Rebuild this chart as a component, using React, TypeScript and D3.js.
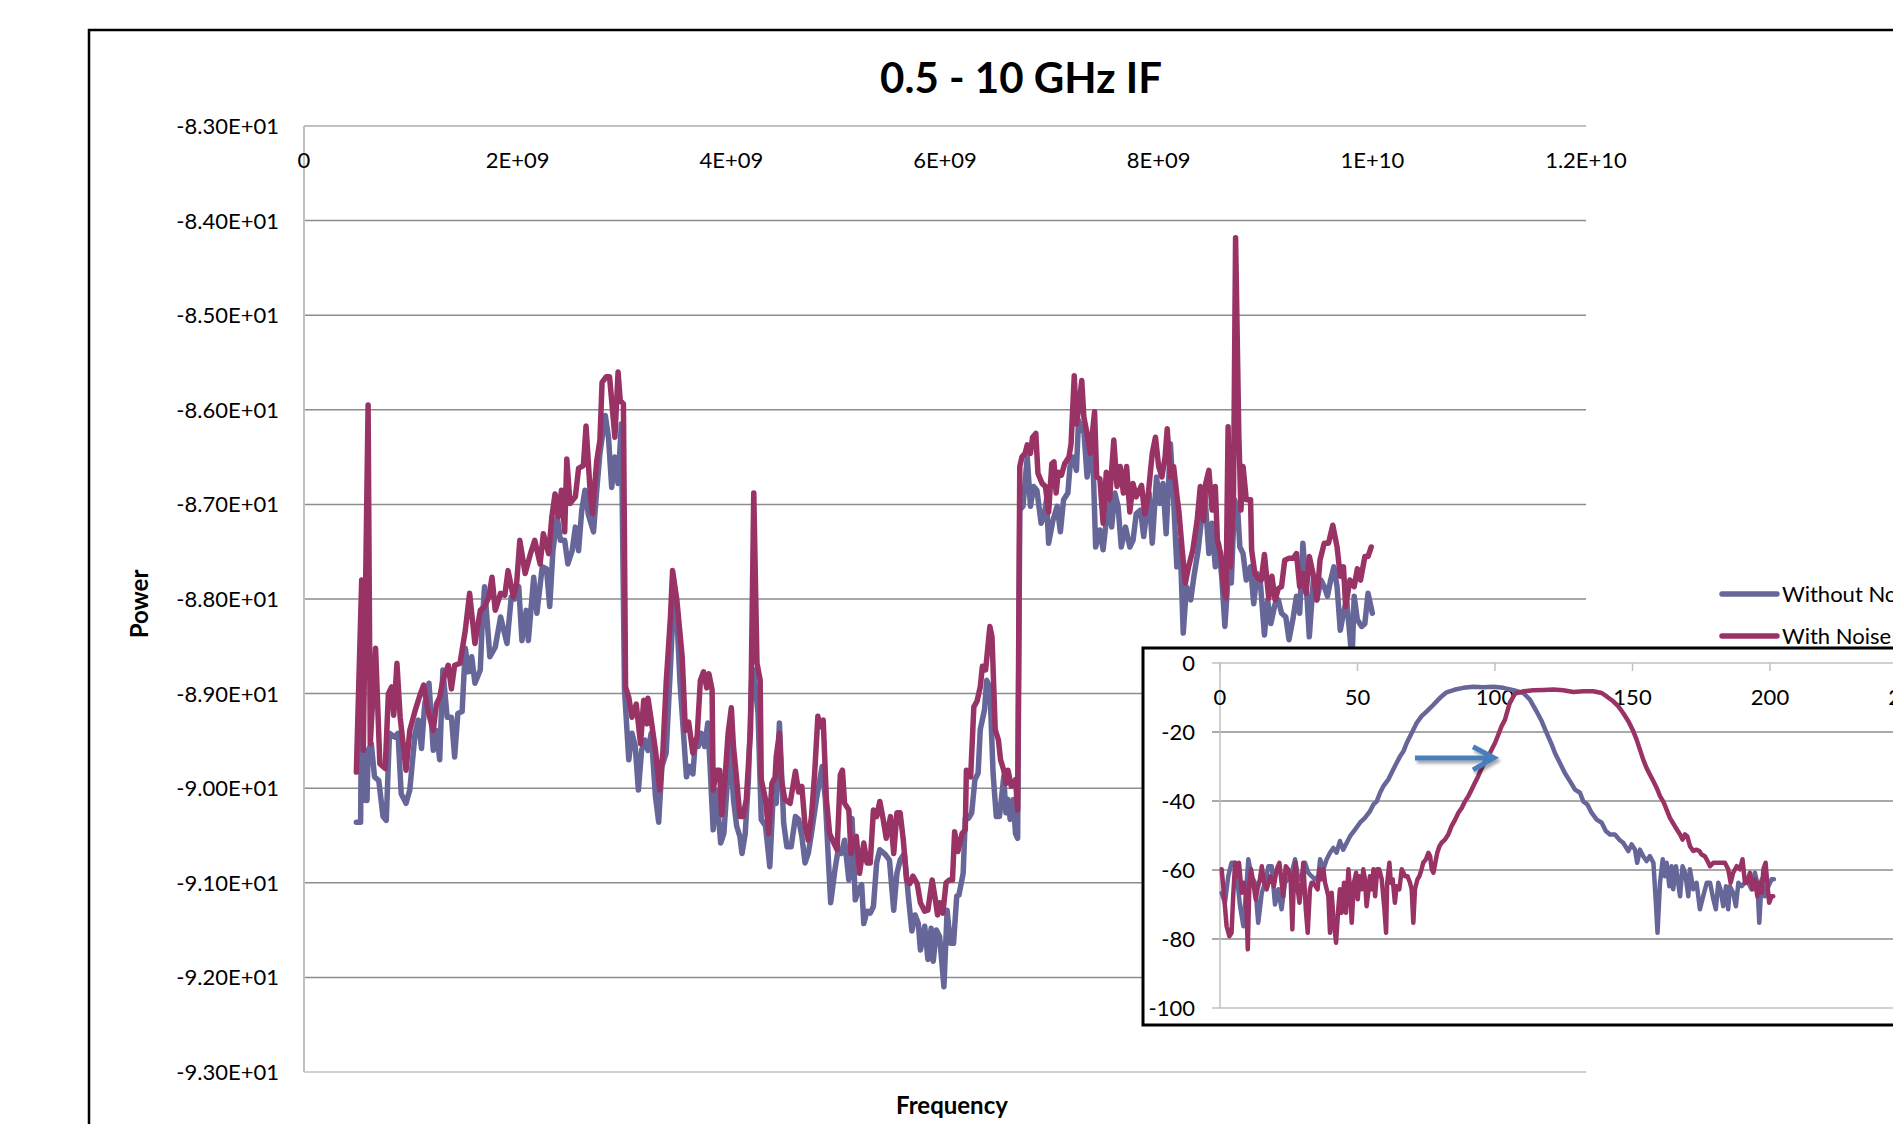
import React from "react";
import * as d3 from "d3";

// ---------- Main chart data (frequency in GHz, power in dB) ----------
const withoutNoiseFreq = [
  0.49, 0.53, 0.545, 0.555, 0.57, 0.59, 0.6, 0.63, 0.66, 0.7, 0.74, 0.77, 0.8, 0.85, 0.88, 0.91, 0.955, 0.99,
  1.04, 1.07, 1.1, 1.13, 1.17, 1.21, 1.24, 1.27, 1.3, 1.34, 1.38, 1.41, 1.44, 1.48, 1.51, 1.54, 1.57, 1.6, 1.65,
  1.67, 1.69, 1.74, 1.79, 1.84, 1.9, 1.94, 1.97, 2.01, 2.04, 2.08, 2.1, 2.15, 2.18, 2.23, 2.27, 2.3, 2.33, 2.37,
  2.4, 2.44, 2.47, 2.51, 2.54, 2.57, 2.6, 2.63, 2.66, 2.71, 2.74, 2.77, 2.82, 2.85, 2.88, 2.91, 2.94, 2.97, 3.0,
  3.04, 3.07, 3.1, 3.13, 3.16, 3.19, 3.22, 3.25, 3.29, 3.32, 3.35, 3.39, 3.43, 3.46, 3.49, 3.52, 3.58, 3.61, 3.64,
  3.66, 3.69, 3.72, 3.75, 3.78, 3.8, 3.83, 3.86, 3.9, 3.93, 3.96, 3.99, 4.02, 4.05, 4.08, 4.1, 4.13, 4.16, 4.19,
  4.21, 4.25, 4.28, 4.32, 4.36, 4.39, 4.42, 4.45, 4.49, 4.52, 4.56, 4.6, 4.63, 4.66, 4.69, 4.72, 4.75, 4.8, 4.85,
  4.88, 4.91, 4.93, 4.97, 5.0, 5.03, 5.06, 5.1, 5.13, 5.16, 5.19, 5.22, 5.24, 5.27, 5.3, 5.33, 5.36, 5.39, 5.44,
  5.48, 5.52, 5.55, 5.58, 5.62, 5.66, 5.69, 5.72, 5.75, 5.77, 5.81, 5.84, 5.87, 5.89, 5.92, 5.95, 5.99, 6.02, 6.05,
  6.08, 6.11, 6.13, 6.17, 6.19, 6.22, 6.25, 6.28, 6.31, 6.33, 6.37, 6.39, 6.42, 6.45, 6.48, 6.51, 6.55, 6.57, 6.59,
  6.61, 6.64, 6.66, 6.68, 6.7, 6.73, 6.77, 6.8, 6.83, 6.86, 6.9, 6.93, 6.95, 6.97, 7.01, 7.05, 7.08, 7.11, 7.15,
  7.17, 7.2, 7.23, 7.25, 7.28, 7.3, 7.33, 7.36, 7.39, 7.41, 7.45, 7.48, 7.51, 7.54, 7.56, 7.59, 7.62, 7.65, 7.69,
  7.73, 7.76, 7.79, 7.83, 7.86, 7.89, 7.91, 7.94, 7.98, 8.01, 8.04, 8.07, 8.11, 8.14, 8.17, 8.2, 8.23, 8.26, 8.3,
  8.33, 8.37, 8.4, 8.43, 8.47, 8.5, 8.53, 8.56, 8.59, 8.62, 8.65, 8.68, 8.71, 8.74, 8.76, 8.79, 8.82, 8.86, 8.89,
  8.92, 8.95, 8.99, 9.02, 9.05, 9.09, 9.12, 9.15, 9.19, 9.22, 9.26, 9.29, 9.32, 9.35, 9.39, 9.41, 9.45, 9.48, 9.52,
  9.55, 9.58, 9.61, 9.64, 9.67, 9.7, 9.73, 9.76, 9.81, 9.83, 9.86, 9.9, 9.93, 9.96, 10.0,
];
const withoutNoisePower = [
  -90.36, -90.36, -87.84, -90.13, -89.7, -90.13, -89.6, -89.53, -89.88, -89.92, -90.3, -90.34, -89.42, -89.46, -89.42, -90.06, -90.16, -90.02,
  -89.42, -89.28, -89.58, -89.11, -88.89, -89.6, -89.39, -89.7, -88.75, -89.25, -89.25, -89.67, -89.21, -89.19, -88.52, -88.77, -88.61, -88.89, -88.75,
  -88.21, -87.87, -88.61, -88.51, -88.19, -88.47, -87.98, -88.0, -87.87, -88.44, -88.12, -88.44, -87.77, -88.15, -87.66, -87.68, -88.08, -87.49, -87.13,
  -87.38, -87.38, -87.63, -87.49, -87.24, -87.49, -87.06, -86.85, -87.1, -87.29, -86.85, -86.46, -86.06, -86.29, -86.82, -86.5, -86.78, -86.15, -88.96,
  -89.7, -89.42, -89.55, -90.02, -89.6, -89.49, -89.6, -89.42, -90.09, -90.36, -89.77, -89.63, -88.72, -87.98, -88.19, -88.89, -89.88, -89.77, -89.85,
  -89.56, -89.56, -89.42, -89.56, -89.31, -89.74, -90.44, -90.02, -90.58, -90.48, -89.98, -89.49, -90.12, -90.4, -90.51, -90.69, -90.48, -89.91, -88.86,
  -88.75, -89.21, -90.33, -90.4, -90.83, -90.12, -90.16, -89.31, -90.37, -90.62, -90.62, -90.3, -90.33, -90.51, -90.79, -90.69, -90.48, -90.09, -89.77,
  -90.12, -90.79, -91.21, -90.86, -90.65, -90.69, -90.55, -90.97, -90.32, -91.18, -91.07, -91.02, -91.43, -91.3, -91.32, -91.25, -90.79, -90.65, -90.7,
  -90.76, -91.29, -90.9, -90.76, -90.69, -91.18, -91.51, -91.34, -91.43, -91.71, -91.46, -91.81, -91.48, -91.83, -91.5, -91.57, -92.1, -91.29, -91.64,
  -91.64, -91.14, -91.13, -90.9, -90.32, -90.32, -90.26, -89.91, -89.84, -89.38, -89.17, -88.86, -88.93, -89.84, -90.3, -90.3, -89.88, -90.26, -90.12,
  -90.33, -90.12, -90.48, -90.53, -87.06, -87.02, -86.5, -87.02, -86.81, -86.85, -87.2, -87.11, -86.95, -87.41, -87.17, -87.02, -87.29, -86.95, -86.88,
  -86.6, -86.5, -86.64, -86.11, -86.22, -86.22, -86.71, -86.36, -86.71, -87.45, -87.27, -87.48, -87.17, -86.99, -87.24, -86.88, -87.02, -87.45, -87.24,
  -87.45, -87.38, -87.1, -87.06, -87.34, -87.06, -86.88, -87.41, -86.71, -86.99, -86.78, -87.31, -86.36, -86.95, -87.66, -87.38, -88.36, -87.87, -88.01,
  -87.76, -87.48, -87.17, -86.85, -87.52, -87.2, -87.66, -87.41, -87.76, -88.29, -87.76, -87.83, -86.95, -87.06, -87.45, -87.52, -87.8, -87.66, -88.05,
  -87.73, -87.8, -88.38, -88.01, -88.26, -88.05, -88.01, -88.15, -88.19, -88.43, -88.19, -87.97, -88.15, -87.41, -88.01, -88.4, -87.76, -88.01, -87.8,
  -87.87, -87.97, -87.8, -87.66, -87.87, -88.33, -88.15, -88.01, -88.65, -87.97, -88.22, -88.29, -88.26, -87.94, -88.15,
];

const withNoiseFreq = [
  0.49, 0.54, 0.555, 0.6, 0.62, 0.67, 0.71, 0.76, 0.79, 0.82, 0.84, 0.87, 0.9, 0.955, 0.99, 1.04, 1.09, 1.12, 1.16,
  1.21, 1.24, 1.27, 1.3, 1.35, 1.38, 1.41, 1.46, 1.51, 1.55, 1.6, 1.65, 1.69, 1.73, 1.76, 1.79, 1.84, 1.88, 1.91,
  1.96, 1.99, 2.02, 2.07, 2.12, 2.16, 2.21, 2.24, 2.29, 2.32, 2.35, 2.38, 2.41, 2.44, 2.46, 2.49, 2.54, 2.57, 2.615,
  2.64, 2.68, 2.7, 2.74, 2.77, 2.79, 2.83, 2.86, 2.91, 2.94, 2.96, 2.99, 3.01, 3.04, 3.07, 3.11, 3.15, 3.18, 3.21,
  3.22, 3.25, 3.29, 3.33, 3.36, 3.39, 3.43, 3.45, 3.49, 3.54, 3.57, 3.6, 3.64, 3.68, 3.71, 3.74, 3.77, 3.79, 3.82,
  3.83, 3.86, 3.89, 3.91, 3.94, 3.97, 4.0, 4.02, 4.05, 4.08, 4.11, 4.14, 4.18, 4.21, 4.24, 4.27, 4.28, 4.32, 4.35,
  4.38, 4.41, 4.42, 4.45, 4.47, 4.5, 4.55, 4.6, 4.63, 4.66, 4.69, 4.72, 4.75, 4.78, 4.81, 4.83, 4.86, 4.89, 4.92,
  4.96, 4.99, 5.02, 5.04, 5.06, 5.1, 5.12, 5.14, 5.17, 5.2, 5.24, 5.27, 5.3, 5.33, 5.36, 5.39, 5.42, 5.45, 5.49,
  5.52, 5.55, 5.58, 5.61, 5.64, 5.67, 5.7, 5.74, 5.77, 5.81, 5.84, 5.88, 5.91, 5.93, 5.95, 5.98, 6.01, 6.04, 6.07,
  6.09, 6.12, 6.16, 6.19, 6.2, 6.24, 6.27, 6.3, 6.33, 6.35, 6.38, 6.42, 6.44, 6.47, 6.5, 6.52, 6.55, 6.57, 6.59,
  6.62, 6.66, 6.68, 6.7, 6.72, 6.75, 6.77, 6.8, 6.82, 6.85, 6.87, 6.91, 6.94, 6.97, 7.0, 7.02, 7.04, 7.06, 7.09,
  7.12, 7.16, 7.18, 7.21, 7.23, 7.25, 7.28, 7.3, 7.33, 7.36, 7.4, 7.42, 7.45, 7.48, 7.51, 7.54, 7.58, 7.61, 7.64,
  7.67, 7.7, 7.73, 7.76, 7.79, 7.84, 7.87, 7.9, 7.94, 7.97, 8.0, 8.03, 8.06, 8.08, 8.11, 8.14, 8.17, 8.19, 8.22,
  8.25, 8.28, 8.32, 8.36, 8.39, 8.42, 8.44, 8.47, 8.5, 8.53, 8.55, 8.58, 8.61, 8.63, 8.65, 8.67, 8.7, 8.72, 8.75,
  8.77, 8.79, 8.82, 8.86, 8.87, 8.9, 8.93, 8.96, 8.99, 9.03, 9.06, 9.09, 9.12, 9.15, 9.18, 9.22, 9.26, 9.29, 9.32,
  9.35, 9.38, 9.41, 9.45, 9.48, 9.51, 9.55, 9.59, 9.63, 9.67, 9.7, 9.73, 9.75, 9.79, 9.83, 9.86, 9.89, 9.93, 9.96,
  9.99,
];
const withNoisePower = [
  -89.83, -87.8, -89.6, -85.95, -89.53, -88.52, -89.74, -89.79, -89.0, -88.93, -89.23, -88.68, -89.25, -89.81, -89.39, -89.18, -89.0, -88.91, -89.18,
  -89.39, -89.11, -89.04, -88.86, -88.7, -88.95, -88.7, -88.68, -88.33, -87.94, -88.47, -88.12, -88.08, -87.98, -87.77, -88.12, -87.94, -87.96, -87.7,
  -87.98, -87.84, -87.38, -87.73, -87.52, -87.38, -87.63, -87.31, -87.52, -87.13, -86.89, -87.13, -86.85, -87.29, -86.52, -86.99, -86.92, -86.62, -86.59,
  -86.17, -86.89, -87.1, -86.54, -86.32, -85.71, -85.65, -85.65, -86.29, -85.6, -85.9, -85.94, -88.93, -89.04, -89.25, -89.11, -89.53, -89.07, -89.32,
  -89.05, -89.28, -89.6, -90.02, -89.6, -88.89, -88.19, -87.7, -88.01, -88.61, -89.39, -89.3, -89.63, -89.45, -88.86, -88.77, -88.94, -88.79, -88.96,
  -90.02, -89.81, -89.81, -90.28, -89.91, -89.42, -89.15, -89.56, -89.91, -90.3, -90.3, -90.12, -89.38, -86.88, -88.68, -88.86, -89.91, -90.12, -90.48,
  -89.95, -89.88, -89.67, -89.42, -89.91, -90.12, -90.16, -89.82, -90.04, -89.98, -90.4, -90.55, -90.3, -89.84, -89.24, -89.35, -89.28, -90.12, -90.48,
  -90.58, -90.65, -89.86, -89.81, -90.16, -90.23, -90.69, -90.55, -90.51, -90.9, -90.58, -90.79, -90.79, -90.23, -90.3, -90.14, -90.32, -90.53, -90.3,
  -90.69, -90.26, -90.26, -90.55, -90.97, -91.01, -90.93, -91.01, -91.21, -91.3, -91.29, -90.97, -91.18, -91.34, -91.21, -91.32, -91.0, -90.97, -90.97,
  -90.46, -90.67, -90.48, -90.44, -89.81, -89.88, -89.14, -89.08, -88.93, -88.71, -88.75, -88.29, -88.4, -89.38, -89.49, -89.7, -89.81, -89.95, -89.81,
  -89.98, -89.91, -90.23, -86.6, -86.5, -86.46, -86.37, -86.46, -86.29, -86.25, -86.67, -86.78, -86.81, -87.08, -86.57, -86.55, -86.88, -86.66, -86.69,
  -86.57, -86.5, -86.36, -85.64, -86.15, -86.0, -85.69, -86.08, -86.25, -86.46, -86.02, -86.71, -86.73, -87.2, -86.66, -86.95, -86.32, -86.81, -86.6,
  -86.88, -86.6, -87.08, -86.78, -86.92, -86.8, -87.1, -86.92, -86.46, -86.29, -86.6, -86.71, -86.5, -86.2, -86.71, -86.6, -86.9, -87.08, -87.48,
  -87.83, -87.66, -87.48, -87.17, -86.81, -87.17, -86.78, -86.64, -87.06, -86.81, -87.38, -87.52, -87.9, -87.99, -86.18, -87.66, -86.95, -84.18, -86.25,
  -87.06, -86.6, -86.95, -86.95, -87.48, -87.73, -87.78, -87.8, -87.53, -87.99, -87.76, -88.01, -87.89, -87.87, -87.59, -87.57, -87.57, -87.52, -87.87,
  -87.73, -87.94, -87.55, -87.76, -88.01, -87.59, -87.41, -87.41, -87.22, -87.45, -87.76, -87.66, -88.08, -87.8, -87.87, -87.68, -87.8, -87.55, -87.55,
  -87.45,
];

// ---------- Inset chart data ----------
const insetWithoutX = [
  0.6, 1.8, 3.0, 4.2, 5.5, 6.4, 7.3, 8.5, 9.7, 10.3, 11.5, 12.7, 13.9, 15.2, 16.4, 17.6, 18.8, 20.0, 21.2, 22.4,
  23.6, 24.8, 26.1, 27.3, 28.5, 29.7, 30.9, 32.1, 33.3, 34.5, 35.8, 36.4, 37.6, 38.8, 40.0, 41.2, 42.4, 43.6, 44.8,
  46.1, 47.3, 49.1, 50.9, 52.7, 54.5, 55.8, 57.0, 58.2, 59.4, 61.2, 63.0, 64.2, 65.5, 66.7, 67.9, 69.7, 71.5, 73.3,
  75.2, 77.6, 80.0, 82.4, 85.5, 88.5, 92.1, 95.8, 99.4, 103.0, 106.7, 110.3, 112.7, 115.1, 117.0, 118.8, 120.6, 121.8,
  123.6, 125.4, 127.3, 129.1, 130.9, 132.1, 133.6, 135.1, 137.0, 138.8, 140.3, 141.8, 143.6, 145.2, 146.6, 148.5,
  149.7, 150.9, 151.7, 152.7, 153.9, 155.1, 156.3, 157.6, 158.5, 159.1, 160.0, 161.0, 161.8, 162.4, 163.4, 164.2,
  164.8, 165.8, 166.6, 167.3, 168.2, 169.1, 170.3, 170.9, 172.1, 173.3, 174.5, 175.7, 177.0, 178.2, 179.4, 180.3,
  181.2, 182.0, 183.0, 184.0, 184.8, 185.4, 186.6, 187.6, 188.5, 189.7, 190.9, 192.1, 193.3, 194.5, 195.4, 196.1,
  197.0, 198.2, 199.4, 200.6, 201.4,
];
const insetWithoutY = [
  -66.6, -69.5, -61.8, -57.9, -57.9, -63.7, -70.5, -76.3, -63.7, -56.9, -61.8, -63.7, -75.3, -66.6, -63.7, -58.9, -58.9, -70.0, -65.6, -71.4,
  -63.7, -62.7, -60.8, -56.9, -62.7, -61.8, -57.9, -60.8, -61.8, -62.7, -61.8, -56.9, -59.8, -56.9, -55.0, -53.6, -55.0, -51.6, -54.1,
  -52.1, -50.2, -48.3, -46.3, -44.9, -43.0, -41.0, -40.1, -37.6, -35.7, -33.8, -30.9, -29.0, -27.0, -25.6, -23.2, -20.3, -17.4, -15.4,
  -14.0, -12.1, -10.1, -8.5, -7.7, -7.2, -6.9, -7.0, -6.9, -7.2, -7.9, -8.7, -10.6, -14.0, -16.9, -20.3, -23.6, -26.1,
  -29.0, -31.9, -34.3, -36.7, -37.6, -40.1, -41.0, -43.4, -45.4, -46.3, -48.7, -49.7, -49.7, -51.2, -52.1, -54.5,
  -52.6, -54.1, -57.9, -54.1, -56.0, -57.4, -56.0, -57.9, -69.5, -78.2, -63.7, -56.9, -61.8, -57.9, -64.7, -58.9,
  -65.6, -58.9, -63.7, -67.6, -58.9, -60.8, -67.6, -59.8, -65.6, -63.7, -71.4, -67.6, -63.7, -63.7, -68.5, -71.4,
  -63.7, -65.6, -70.5, -64.7, -71.4, -64.7, -66.6, -70.5, -63.7, -64.7, -63.7, -63.7, -65.6, -60.8, -63.7, -75.3,
  -62.7, -67.6, -64.7, -62.7, -62.7,
];
const insetWithX = [
  0.6, 1.5, 2.4, 3.4, 4.2, 4.8, 5.5, 6.1, 6.9, 7.9, 8.7, 9.5, 10.1, 10.7, 11.3, 12.1, 13.0, 13.6, 14.5, 15.2,
  16.0, 17.0, 18.2, 18.8, 19.6, 20.6, 21.6, 22.4, 23.0, 23.9, 24.8, 25.7, 26.3, 26.9, 27.5, 28.1, 28.9, 29.7,
  30.3, 31.2, 31.9, 32.7, 33.3, 33.9, 34.8, 35.5, 36.1, 37.0, 37.6, 38.2, 38.8, 39.4, 40.0, 40.6, 41.2, 42.2,
  43.0, 43.6, 44.2, 45.1, 45.8, 46.7, 47.3, 47.9, 48.7, 49.5, 50.1, 50.7, 51.5, 52.1, 52.7, 53.3, 53.9, 54.5,
  55.2, 55.8, 56.4, 57.2, 57.9, 58.8, 59.8, 60.4, 60.8, 61.6, 62.1, 62.8, 63.6, 64.2, 65.2, 66.1, 66.7, 67.3,
  68.2, 69.1, 69.7, 70.3, 70.9, 71.8, 72.5, 73.3, 73.9, 74.9, 75.8, 76.4, 77.0, 77.6, 78.3, 79.0, 79.8, 80.6,
  81.8, 83.0, 84.2, 85.5, 86.7, 87.9, 89.1, 90.3, 91.5, 92.7, 93.9, 95.2, 96.4, 97.6, 98.8, 100.0, 101.2, 102.4,
  103.6, 105.4, 107.3, 110.3, 113.9, 117.6, 121.2, 124.8, 128.5, 132.1, 135.7, 138.8, 140.6, 143.0, 144.8, 146.6,
  148.5, 150.3, 151.5, 152.7, 153.9, 155.1, 156.3, 157.6, 158.8, 160.0, 161.4, 162.4, 163.6, 165.4, 167.3, 168.2,
  169.1, 169.9, 170.9, 172.1, 173.3, 174.3, 175.1, 176.3, 177.6, 178.2, 179.4, 181.2, 182.4, 183.6, 184.8, 185.7,
  186.6, 187.9, 189.1, 190.0, 190.9, 191.7, 192.7, 193.7, 194.5, 195.4, 196.1, 197.0, 197.6, 198.4, 199.0, 199.7,
  200.6, 201.2,
];
const insetWithY = [
  -59.8, -67.6, -76.3, -79.2, -78.2, -67.6, -57.9, -61.8, -57.9, -66.6, -63.7, -67.6, -83.0, -63.7, -59.8, -63.7, -68.5, -65.6, -62.7, -58.9,
  -63.7, -65.6, -61.8, -62.7, -64.7, -59.8, -57.9, -63.7, -67.6, -58.9, -59.8, -62.7, -77.2, -61.8, -57.9, -64.7, -69.5, -63.7,
  -57.9, -71.4, -78.2, -65.6, -63.7, -63.7, -64.7, -65.6, -59.8, -62.7, -59.8, -63.7, -65.6, -67.6, -78.2, -66.6, -73.4, -81.1,
  -71.4, -65.6, -72.4, -63.7, -72.4, -59.8, -65.6, -75.3, -63.7, -60.8, -68.5, -61.8, -65.6, -59.8, -62.7, -70.5, -66.6, -61.8,
  -65.6, -59.8, -67.6, -59.8, -59.8, -62.7, -71.4, -78.2, -63.7, -57.9, -63.7, -62.7, -69.5, -64.7, -65.6, -59.8, -60.8, -61.8,
  -61.8, -63.7, -65.6, -75.3, -65.6, -62.7, -61.8, -59.8, -57.9, -56.9, -55.0, -56.0, -59.8, -60.8, -57.9, -55.0, -53.1, -52.1,
  -51.2, -49.7, -47.3, -45.4, -43.4, -42.0, -40.1, -38.6, -36.7, -34.7, -32.8, -30.4, -28.5, -27.0, -25.1, -23.2, -20.8, -18.3,
  -16.5, -11.5, -8.9, -8.2, -7.9, -7.8, -7.7, -7.9, -8.4, -8.2, -8.2, -8.7, -9.7, -11.1, -12.5, -14.5,
  -16.9, -19.8, -22.2, -25.1, -28.0, -30.4, -32.3, -34.3, -36.2, -38.6, -40.5, -42.5, -44.9, -47.3, -49.7, -51.2,
  -49.7, -50.2, -53.1, -54.5, -54.1, -54.5, -55.5, -56.0, -57.9, -58.9, -57.9, -57.9, -57.9, -57.9, -59.8, -63.7,
  -60.8, -58.9, -59.8, -56.9, -63.7, -63.7, -60.8, -65.6, -62.7, -67.6, -63.7, -66.6, -59.8, -57.9, -63.7, -69.5,
  -67.6, -67.6,
];

// Arrow annotation in inset data units: [x, y]
const arrowTail = [70.9, -27.5];
const arrowTip = [99.6, -27.5];
const arrowWingA = [92.0, -24.3];
const arrowWingB = [92.0, -31.0];

// Axis ticks and labels
const mainXTicks = [0, 2e9, 4e9, 6e9, 8e9, 1e10, 1.2e10];
const mainXLabels = ["0", "2E+09", "4E+09", "6E+09", "8E+09", "1E+10", "1.2E+10"];
const mainYTicks = [-83, -84, -85, -86, -87, -88, -89, -90, -91, -92, -93];
const mainYLabels = [
  "-8.30E+01", "-8.40E+01", "-8.50E+01", "-8.60E+01", "-8.70E+01", "-8.80E+01",
  "-8.90E+01", "-9.00E+01", "-9.10E+01", "-9.20E+01", "-9.30E+01",
];
const insetXTicks = [0, 50, 100, 150, 200, 250];
const insetYTicks = [0, -20, -40, -60, -80, -100];

const seriesNames = ["Without Noise", "With Noise"];
const seriesColors = ["#666699", "#993366"];

const FONT = "Lato, 'Open Sans', 'Noto Sans', sans-serif";

export default function App() {
  const W = 1893;
  const H = 1124;

  const x = d3.scaleLinear().domain([0, 1.2e10]).range([304, 1586]);
  const y = d3.scaleLinear().domain([-93, -83]).range([1072, 126]);
  const ix = d3.scaleLinear().domain([0, 250]).range([1220, 1907.5]);
  const iy = d3.scaleLinear().domain([-100, 0]).range([1008, 663]);

  const mainLine = d3
    .line<[number, number]>()
    .x((d) => x(d[0] * 1e9))
    .y((d) => y(d[1]));
  const insetLine = d3
    .line<[number, number]>()
    .x((d) => ix(d[0]))
    .y((d) => iy(d[1]));

  const zip = (a: number[], b: number[]) => a.map((v, i) => [v, b[i]] as [number, number]);

  const mainWithout = mainLine(zip(withoutNoiseFreq, withoutNoisePower)) || "";
  const mainWith = mainLine(zip(withNoiseFreq, withNoisePower)) || "";
  const inWithout = insetLine(zip(insetWithoutX, insetWithoutY)) || "";
  const inWith = insetLine(zip(insetWithX, insetWithY)) || "";

  const arrowPath =
    `M${ix(arrowTail[0])},${iy(arrowTail[1])}L${ix(arrowTip[0])},${iy(arrowTip[1])}` +
    `M${ix(arrowWingA[0])},${iy(arrowWingA[1])}L${ix(arrowTip[0])},${iy(arrowTip[1])}L${ix(arrowWingB[0])},${iy(arrowWingB[1])}`;

  const gridColor = "#8c8c8c";
  const axisColor = "#c0c0c0";

  return (
    <svg
      width={W}
      height={H}
      style={{ position: "absolute", left: 0, top: 0, background: "#fff" }}
      fontFamily={FONT}
    >
      <defs>
        <filter id="shadow" x="-20%" y="-50%" width="140%" height="200%">
          <feDropShadow dx="2" dy="3" stdDeviation="1.5" floodColor="#000" floodOpacity="0.35" />
        </filter>
      </defs>
      <rect x={0} y={0} width={W} height={H} fill="#fff" />
      {/* chart area border */}
      <rect x={89} y={30} width={1900} height={1200} fill="#fff" stroke="#000" strokeWidth={2.5} />

      {/* title */}
      <text x={1021} y={93} textAnchor="middle" fontWeight="bold" fontSize={42}>
        0.5 - 10 GHz IF
      </text>

      {/* main gridlines */}
      {mainYTicks.map((t) => (
        <line
          key={"g" + t}
          x1={x(0)}
          x2={x(1.2e10)}
          y1={y(t)}
          y2={y(t)}
          stroke={t === -83 || t === -93 ? axisColor : gridColor}
          strokeWidth={t === -83 ? 2 : 1.5}
        />
      ))}
      <line x1={x(0)} x2={x(0)} y1={y(-83)} y2={y(-93)} stroke={axisColor} strokeWidth={2} />

      {/* main y tick labels */}
      {mainYTicks.map((t, i) => (
        <text key={"yl" + t} x={279} y={y(t)} dy="0.36em" textAnchor="end" fontSize={22}>
          {mainYLabels[i]}
        </text>
      ))}
      {/* main x tick labels */}
      {mainXTicks.map((t, i) => (
        <text key={"xl" + t} x={x(t)} y={160} dy="0.36em" textAnchor="middle" fontSize={22}>
          {mainXLabels[i]}
        </text>
      ))}

      {/* axis titles */}
      <text
        x={139}
        y={604}
        transform="rotate(-90 139 604)"
        textAnchor="middle"
        dy="0.36em"
        fontWeight="bold"
        fontSize={24}
      >
        Power
      </text>
      <text x={952} y={1114} textAnchor="middle" fontWeight="bold" fontSize={24}>
        Frequency
      </text>

      {/* main series */}
      <path d={mainWithout} fill="none" stroke={seriesColors[0]} strokeWidth={5.5} strokeLinejoin="round" strokeLinecap="round" />
      <path d={mainWith} fill="none" stroke={seriesColors[1]} strokeWidth={5.5} strokeLinejoin="round" strokeLinecap="round" />

      {/* legend */}
      {seriesNames.map((n, i) => (
        <g key={n}>
          <line x1={1722} x2={1777} y1={594 + i * 42} y2={594 + i * 42} stroke={seriesColors[i]} strokeWidth={5.5} strokeLinecap="round" />
          <text x={1782} y={594 + i * 42} dy="0.36em" fontSize={22}>
            {n}
          </text>
        </g>
      ))}

      {/* inset */}
      <rect x={1143} y={648} width={900} height={377} fill="#fff" stroke="#000" strokeWidth={3} />
      {insetYTicks.map((t) => (
        <line
          key={"ig" + t}
          x1={ix(0) - 8}
          x2={ix(250) + 100}
          y1={iy(t)}
          y2={iy(t)}
          stroke={t === 0 || t === -100 ? axisColor : gridColor}
          strokeWidth={1.5}
        />
      ))}
      <line x1={ix(0)} x2={ix(0)} y1={iy(0)} y2={iy(-100)} stroke={axisColor} strokeWidth={1.5} />
      {insetXTicks.map((t) => (
        <line key={"it" + t} x1={ix(t)} x2={ix(t)} y1={iy(0)} y2={iy(0) + 8} stroke={axisColor} strokeWidth={1.5} />
      ))}
      {insetYTicks.map((t) => (
        <text key={"iyl" + t} x={1195} y={iy(t)} dy="0.36em" textAnchor="end" fontSize={22}>
          {t}
        </text>
      ))}
      {insetXTicks.map((t) => (
        <text key={"ixl" + t} x={ix(t)} y={697} dy="0.36em" textAnchor="middle" fontSize={22}>
          {t}
        </text>
      ))}
      <path d={inWithout} fill="none" stroke={seriesColors[0]} strokeWidth={4.5} strokeLinejoin="round" strokeLinecap="round" />
      <path d={inWith} fill="none" stroke={seriesColors[1]} strokeWidth={4.5} strokeLinejoin="round" strokeLinecap="round" />
      <path d={arrowPath} fill="none" stroke="#4a7ebb" strokeWidth={5} strokeLinecap="butt" strokeLinejoin="miter" filter="url(#shadow)" />
    </svg>
  );
}
